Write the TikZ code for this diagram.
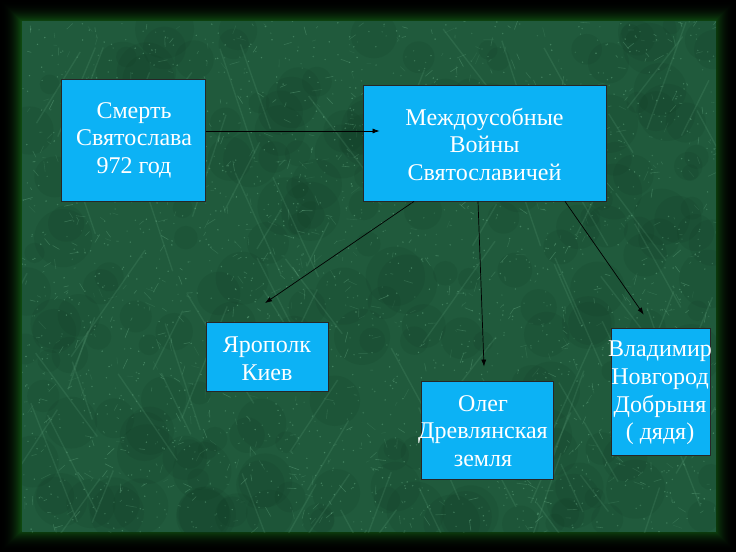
\documentclass[tikz,border=0pt]{standalone}
\usepackage{fontspec}
\setmainfont{Liberation Serif}
\usetikzlibrary{arrows.meta}
\definecolor{boxblue}{RGB}{12,178,245}
\definecolor{marble}{RGB}{32,90,60}
\definecolor{vein}{RGB}{120,190,150}
\definecolor{darkblot}{RGB}{14,52,32}
\definecolor{framegreen}{RGB}{16,80,18}
\tikzset{
  bluebox/.style={draw=black!85, line width=0.8pt, fill=boxblue, inner sep=0pt},
  boxtext/.style={text=white, font=\fontsize{24}{27.6}\selectfont, align=center, inner sep=0pt},
  arr/.style={draw=black, line width=0.7pt, -{Latex[length=7pt,width=5pt]}}
}
\begin{document}
\begin{tikzpicture}[x=1pt,y=-1pt]
\useasboundingbox (0,0) rectangle (736,552);
% frame
\fill[black] (0,0) rectangle (736,552);
\foreach \k in {0,...,22}{
  \pgfmathsetmacro\p{100*(\k/22)^2.2}
  \fill[framegreen!\p!black] (\k,\k) rectangle ({736-\k},{552-\k});
}
% marble texture
\begin{scope}
\clip (22,21) rectangle (716,532);
\fill[marble] (22,21) rectangle (716,532);
\pgfmathsetseed{12}
\foreach \i in {1,...,220}{
  \pgfmathsetmacro\xa{22+694*rnd}
  \pgfmathsetmacro\ya{21+511*rnd}
  \pgfmathsetmacro\rr{8+22*rnd}
  \fill[darkblot, opacity=0.12] (\xa,\ya) circle (\rr);
}
\foreach \i in {1,...,90}{
  \pgfmathsetmacro\xa{22+694*rnd}
  \pgfmathsetmacro\ya{21+511*rnd}
  \pgfmathsetmacro\ang{(rnd<0.5?62:118)+20*rnd-10}
  \pgfmathsetmacro\len{40+90*rnd}
  \draw[vein, opacity=0.14, line width=1.4pt] (\xa,\ya) -- ++(\ang:\len);
}
\foreach \i in {1,...,900}{
  \pgfmathsetmacro\xa{22+694*rnd}
  \pgfmathsetmacro\ya{21+511*rnd}
  \pgfmathsetmacro\ang{360*rnd}
  \pgfmathsetmacro\len{2+9*rnd}
  \pgfmathsetmacro\op{0.10+0.25*rnd}
  \draw[vein, opacity=\op, line width=0.6pt] (\xa,\ya) -- ++(\ang:\len);
}
\foreach \i in {1,...,1800}{
  \pgfmathsetmacro\xa{22+694*rnd}
  \pgfmathsetmacro\ya{21+511*rnd}
  \pgfmathsetmacro\op{0.15+0.3*rnd}
  \fill[vein, opacity=\op] (\xa,\ya) circle (0.8);
}
\end{scope}
% boxes
\node[bluebox, minimum width=144pt, minimum height=122pt] (b1) at (133.5,140) {};
\node[bluebox, minimum width=243pt, minimum height=116pt] (b2) at (484.5,143) {};
\node[bluebox, minimum width=122pt, minimum height=69pt] (b3) at (267,357) {};
\node[bluebox, minimum width=132pt, minimum height=98pt] (b4) at (487,430) {};
\node[bluebox, minimum width=98.5pt, minimum height=127pt] (b5) at (660.75,391.5) {};
% texts
\node[boxtext] (t1) at (134,140) {Смерть\\Святослава\\972 год};
\node[boxtext] (t2) at (484.5,144.5) {Междоусобные\\Войны\\Святославичей};
\node[boxtext] (t3) at (267,359) {Ярополк\\Киев};
\node[boxtext] (t4) at (483,431) {Олег\\Древлянская\\земля};
\node[boxtext] (t5) at (660,393) {Владимир\\Новгород\\Добрыня\\( дядя)};
% arrows
\draw[arr] ([yshift=9pt]b1.east) -- ([xshift=17pt,yshift=12pt]b2.west);
\draw[arr] ([xshift=-70.5pt]b2.south) -- ([xshift=-2pt,yshift=19pt]b3.north);
\draw[arr] ([xshift=-6.5pt]b2.south) -- ([xshift=-3pt,yshift=14pt]b4.north);
\draw[arr] ([xshift=80.5pt]b2.south) -- ([xshift=-17pt,yshift=13pt]b5.north);
\end{tikzpicture}
\end{document}
